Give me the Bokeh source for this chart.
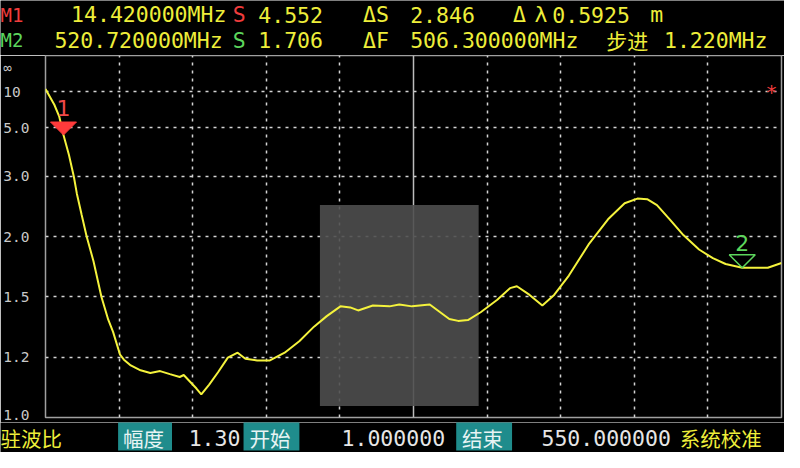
from bokeh.plotting import figure
from bokeh.layouts import column
from bokeh.models import Range1d, FixedTicker, Grid, BoxAnnotation, ColumnDataSource
from bokeh.embed import file_html
from bokeh.resources import INLINE
from bokeh.core.properties import value

# ---------------- data ----------------
F_START = 1.0      # MHz
F_END = 550.0      # MHz
freq_mhz = [1.0, 7.6, 11.2, 14.42, 18.5, 22.2, 24.4, 28.0, 31.7, 36.8, 42.7, 47.8, 51.4,
            56.6, 59.5, 64.6, 71.9, 79.2, 86.5, 93.8, 101.1, 104.1, 113.6, 117.2, 123.1,
            129.7, 137.0, 144.3, 150.1, 158.9, 168.4, 179.4, 190.3, 201.3, 210.8, 221.0,
            228.3, 234.2, 245.2, 257.6, 264.9, 274.4, 287.6, 302.2, 308.8, 316.1, 325.6,
            338.0, 347.5, 352.6, 362.1, 371.6, 380.4, 391.4, 406.0, 420.6, 433.0, 442.5,
            449.8, 457.1, 466.6, 476.8, 488.5, 498.8, 508.3, 520.72, 539.8, 550.0]
swr = [10.8, 7.35, 5.95, 4.552, 3.64, 2.98, 2.62, 2.27, 2.0, 1.76, 1.5, 1.37, 1.31,
       1.21, 1.19, 1.168, 1.15, 1.14, 1.147, 1.136, 1.126, 1.133, 1.087, 1.068, 1.1,
       1.143, 1.198, 1.218, 1.194, 1.187, 1.187, 1.218, 1.267, 1.335, 1.389, 1.443,
       1.437, 1.42, 1.448, 1.443, 1.454, 1.443, 1.454, 1.374, 1.364, 1.368, 1.41,
       1.482, 1.556, 1.569, 1.512, 1.448, 1.512, 1.645, 1.913, 2.21, 2.45, 2.53,
       2.52, 2.42, 2.21, 2.016, 1.866, 1.786, 1.736, 1.706, 1.706, 1.744]
tick_swr = [1.0, 1.2, 1.5, 2.0, 3.0, 5.0, 10.0]
tick_labels = ["1.0", "1.2", "1.5", "2.0", "3.0", "5.0", "10\u00a0"]
grid_swr = [1.2, 1.5, 2.0, 3.0, 5.0, 10.0]
inf_pos = 0.965          # where the analyser prints the "∞" label
m1_freq, m1_swr = 14.42, 4.552
m2_freq, m2_swr = 520.72, 1.706

# SWR axis scale of the analyser: position = 1 - 1/SWR
def swr_pos(s):
    return 1.0 - 1.0 / s

# ---------------- layout ----------------
W, H = 784, 452
SX, SY = W / 800.0, H / 468.0
HEAD_H, FOOT_H = 55, 30
MAIN_H = H - HEAD_H - FOOT_H
FL, FR, FT, FBm = 45, 3, 0, 5
FW, FH = W - FL - FR, MAIN_H - FT - FBm

YELLOW = "#eeee3a"
RED = "#f03c3c"
GREEN = "#5cd65c"
GRAY = "#c8c8c8"
TEAL = "#1f8c8c"
MONO = "DejaVu Sans Mono"
CJK = "Noto Sans CJK SC"


def strip(height, y0, y1):
    f = figure(width=W, height=height, x_range=Range1d(0, 800), y_range=Range1d(y1, y0),
               output_backend="svg", toolbar_location=None, min_border=0,
               x_axis_location=None, y_axis_location=None, frame_align=False,
               background_fill_color="#000000", border_fill_color="#000000",
               outline_line_color=None)
    f.grid.visible = False
    return f


def txt(fig, text, X, Y, color, size=21.5, font=MONO):
    fig.text(x=[X], y=[Y], text=[text], text_color=color, text_font=value(font),
             text_font_size="%.1fpx" % size, text_baseline="middle", text_align="left")


# ---------- header ----------
head = strip(HEAD_H, 0, HEAD_H / SY)
R1, R2 = 15, 41
txt(head, "M1", 0, R1, RED, 19)
txt(head, "14.420000MHz", 72, R1, YELLOW)
txt(head, "S", 237, R1, RED)
txt(head, "4.552", 263, R1, YELLOW)
txt(head, "ΔS", 370, R1, YELLOW)
txt(head, "2.846", 418, R1, YELLOW)
txt(head, "Δ", 523, R1, YELLOW)
txt(head, "λ", 545, R1, YELLOW)
txt(head, "0.5925", 563, R1, YELLOW)
txt(head, "m", 663, R1, YELLOW)
txt(head, "M2", 0, R2, GREEN, 19)
txt(head, "520.720000MHz", 55, R2, YELLOW)
txt(head, "S", 237, R2, GREEN)
txt(head, "1.706", 263, R2, YELLOW)
txt(head, "ΔF", 370, R2, YELLOW)
txt(head, "506.300000MHz", 418, R2, YELLOW)
txt(head, "步进", 618, R2, YELLOW, 21, CJK)
txt(head, "1.220MHz", 677, R2, YELLOW)

# ---------- main SWR plot ----------
p = figure(width=W, height=MAIN_H, x_range=Range1d(F_START, F_END), y_range=Range1d(0, 1),
           output_backend="svg", toolbar_location=None, frame_align=False,
           min_border_left=FL, min_border_right=FR, min_border_top=FT, min_border_bottom=FBm,
           background_fill_color="#000000", border_fill_color="#000000",
           outline_line_color="#a0a0a0", outline_line_width=1.5)
p.xaxis.visible = False
p.grid.visible = False

yt = [swr_pos(s) for s in tick_swr] + [inf_pos]
ylab = tick_labels + ["∞\u00a0\u00a0"]
ax = p.yaxis[0]
ax.ticker = FixedTicker(ticks=yt)
ax.major_label_overrides = {v: l for v, l in zip(yt, ylab)}
ax.axis_line_color = None
ax.major_tick_line_color = None
ax.minor_tick_line_color = None
ax.major_tick_out = 0
ax.major_label_standoff = 16
ax.major_label_text_font = MONO
ax.major_label_text_font_size = "14.5px"
ax.major_label_text_color = GRAY

dot = dict(grid_line_color="#d4d4d4", grid_line_dash="3 5", grid_line_width=1.5)
p.add_layout(Grid(dimension=1, ticker=FixedTicker(ticks=[swr_pos(s) for s in grid_swr]), **dot))
span = F_END - F_START
xdiv = [F_START + k * span / 10 for k in range(1, 10) if k != 5]
p.add_layout(Grid(dimension=0, ticker=FixedTicker(ticks=xdiv), **dot))
p.add_layout(Grid(dimension=0, ticker=FixedTicker(ticks=[F_START + span / 2]),
                  grid_line_color="#bcbcbc", grid_line_width=1.5))

# grey overlay patch seen in the screenshot
p.add_layout(BoxAnnotation(left=205.7, right=324.1, bottom=0.032, top=0.587,
                           fill_color="#4e4e4e", fill_alpha=0.9, line_color=None,
                           level="underlay"))

src = ColumnDataSource(dict(f=freq_mhz, t=[swr_pos(s) for s in swr]))
p.line("f", "t", source=src, line_color="#f4f23c", line_width=2)

# markers: inverted triangles with tip on the trace
dxp, dyp = span / FW, 1.0 / FH
def tri(f, s, hw=13, h=13):
    t = swr_pos(s)
    return [f, f - hw * dxp, f + hw * dxp], [t, t + h * dyp, t + h * dyp]
x1, y1 = tri(m1_freq, m1_swr)
x2, y2 = tri(m2_freq, m2_swr)
p.patches([x1], [y1], fill_color="#ff3b3b", line_color="#ff3b3b")
p.patches([x2], [y2], fill_color=None, line_color=GREEN, line_width=1.5)
p.text(x=[m1_freq], y=[swr_pos(m1_swr)], text=["1"], y_offset=-19, text_align="center",
       text_baseline="bottom", text_color="#f04848", text_font=value("DejaVu Sans"),
       text_font_size="22px")
p.text(x=[m2_freq], y=[swr_pos(m2_swr)], text=["2"], y_offset=-17, text_align="center",
       text_baseline="bottom", text_color=GREEN, text_font=value("DejaVu Sans"),
       text_font_size="22px")
p.text(x=[F_END], y=[swr_pos(10.0)], text=["*"], x_offset=-10, text_align="center",
       text_baseline="middle", text_color=RED, text_font=value("DejaVu Sans"),
       text_font_size="20px")

# ---------- footer ----------
foot_top = (HEAD_H + MAIN_H) / SY
foot = strip(FOOT_H, foot_top, 468)
box_l = [120, 248, 465]
box_r = [175, 305, 522]
foot.quad(left=box_l, right=box_r, top=[436] * 3, bottom=[466] * 3,
          fill_color=TEAL, line_color=None)
RB = (foot_top + 468) / 2
txt(foot, "驻波比", 0, RB, YELLOW, 20.5, CJK)
txt(foot, "幅度", 125, RB, "#e8f4f4", 20.5, CJK)
txt(foot, "1.30", 192, RB, "#e6e6e6")
txt(foot, "开始", 254, RB, "#e8f4f4", 20.5, CJK)
txt(foot, "1.000000", 348, RB, "#e6e6e6")
txt(foot, "结束", 471, RB, "#e8f4f4", 20.5, CJK)
txt(foot, "550.000000", 552, RB, "#e6e6e6")
txt(foot, "系统校准", 693, RB, YELLOW, 20.5, CJK)

layout = column(head, p, foot, spacing=0)
open("out.html", "w").write(file_html(layout, INLINE))
